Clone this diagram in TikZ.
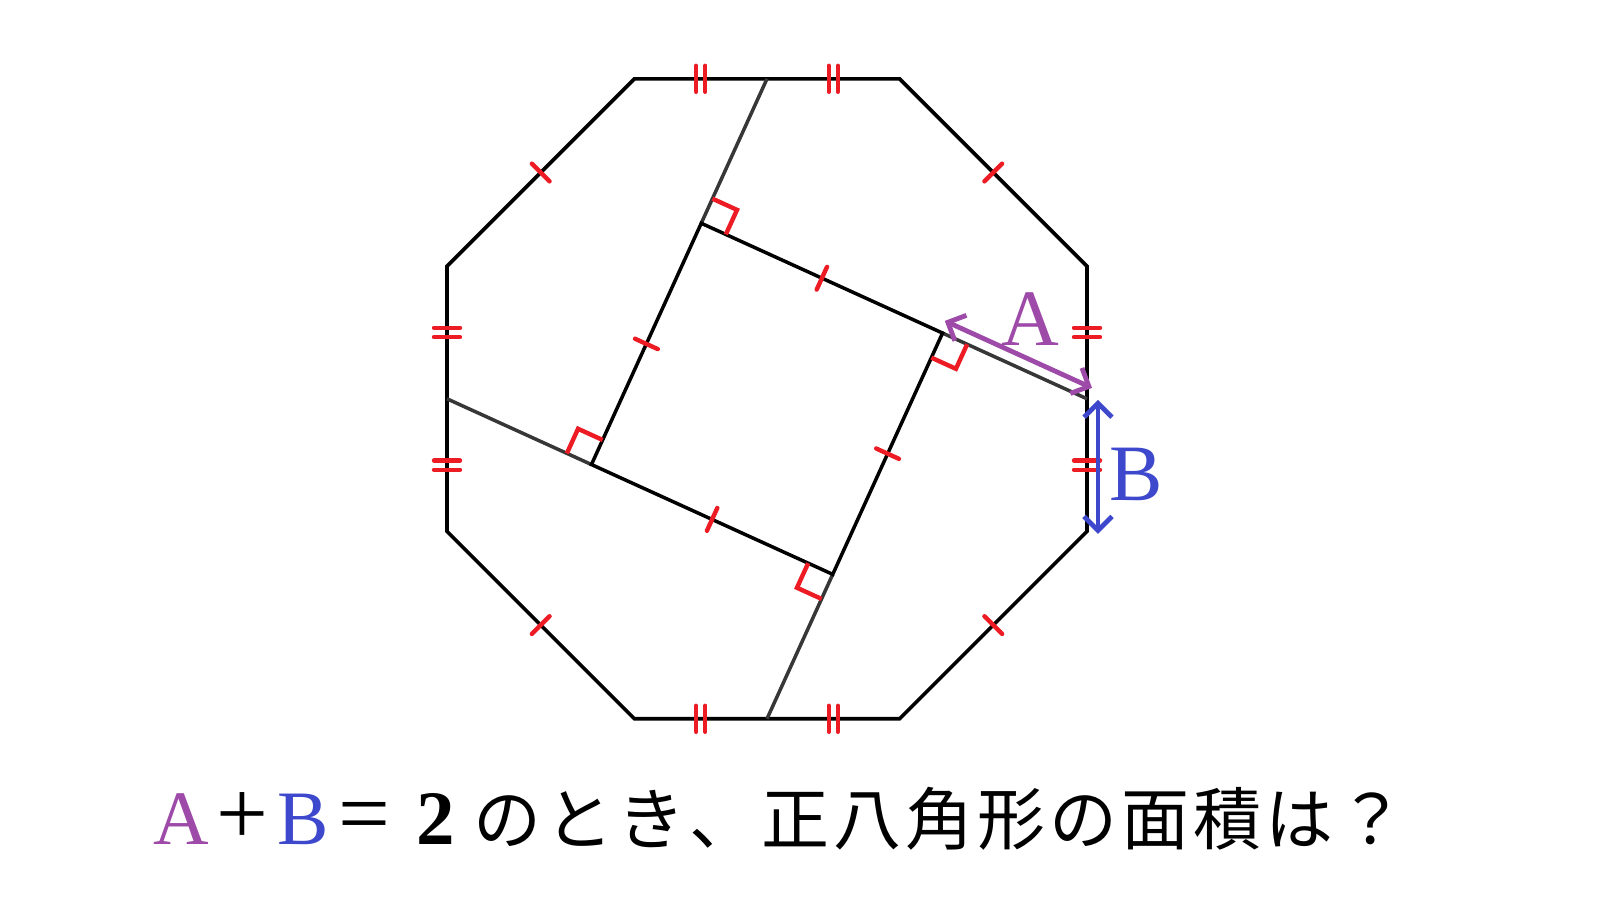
\documentclass[tikz,border=0pt]{standalone}
\usepackage{fontspec}
\setmainfont{Liberation Serif}
\newfontfamily\jpfont{Noto Sans CJK JP}
\usetikzlibrary{arrows.meta,calc}
\definecolor{tickred}{RGB}{237,28,36}
\definecolor{apurple}{RGB}{157,74,168}
\definecolor{bblue}{RGB}{62,72,205}
\definecolor{extgray}{RGB}{55,55,55}
\newcommand\jpch[1]{\makebox[36pt]{#1}}
\newcommand\lach[1]{\makebox[30.5pt]{#1}}
\newcommand\opch[1]{\makebox[30.5pt]{\fontsize{46pt}{50pt}\selectfont #1}}
\begin{document}
\begin{tikzpicture}[x=0.5pt,y=0.5pt,
  oct/.style={line width=1.8pt, black, line join=miter},
  sqside/.style={line width=1.75pt, black},
  extline/.style={line width=1.75pt, extgray},
  tickmark/.style={line width=2.2pt, tickred, line cap=round},
  rightmark/.style={line width=2.2pt, tickred, line join=miter},
  dimarrow/.style={line width=2.4pt, line cap=round,
    {Straight Barb[length=7pt,width=14pt]}-{Straight Barb[length=7pt,width=14pt]}},
  lbl/.style={font=\fontsize{40pt}{48pt}\selectfont, inner sep=0pt, anchor=base}]
\useasboundingbox (-767,-501.2) rectangle (833,398.8);
\fill[white] (-767,-501.2) rectangle (833,398.8);

% octagon
\foreach \i in {1,...,8} \coordinate (V\i) at ({-22.5+45*\i}:346.37);
\draw[oct] (V1) -- (V2) -- (V3) -- (V4) -- (V5) -- (V6) -- (V7) -- (V8) -- cycle;

% edge midpoints and square corners
\coordinate (Mr) at (320,0);
\coordinate (Mt) at (0,320);
\coordinate (Ml) at (-320,0);
\coordinate (Mb) at (0,-320);
\coordinate (Cr) at (175.55,65.74);
\coordinate (Ct) at (-65.74,175.55);
\coordinate (Cl) at (-175.55,-65.74);
\coordinate (Cb) at (65.74,-175.55);

\draw[extline] (Mr) -- (Cr);
\draw[extline] (Mt) -- (Ct);
\draw[extline] (Ml) -- (Cl);
\draw[extline] (Mb) -- (Cb);
\draw[sqside] (Cr) -- (Ct) -- (Cl) -- (Cb) -- cycle;

% single ticks
\foreach \a in {45,135,225,315} \draw[tickmark] (\a:307.5) -- (\a:332.5);
\foreach \a in {65.53,155.53,245.53,335.53} \draw[tickmark] (\a:120) -- (\a:145);

% double ticks
\foreach \r in {0,90,180,270}{
  \begin{scope}[rotate=\r]
    \foreach \y in {66.3,-66.3}{
      \foreach \d in {-4.6,4.6}{
        \draw[tickmark] (307,{\y+\d}) -- (333,{\y+\d});
      }
    }
  \end{scope}
}

% right-angle marks
\foreach \c/\m/\n in {Cr/Mr/Cb, Ct/Mt/Cr, Cl/Ml/Ct, Cb/Mb/Cl}{
  \coordinate (p) at ($(\c)!13.5pt!(\m)$);
  \coordinate (q) at ($(\c)!13.5pt!(\n)$);
  \draw[rightmark] (p) -- ($(p)+(q)-(\c)$) -- (q);
}

% dimension arrows
\coordinate (A1) at (177.8,77.9);
\coordinate (A2) at (325,10.9);
\draw[dimarrow, apurple] (A1) -- (A2);
\coordinate (B1) at (331,-1);
\coordinate (B2) at (331,-135);
\draw[dimarrow, bblue] (B1) -- (B2);

\node[lbl, text=apurple] (labA) at (263.5,53.8) {A};
\node[lbl, text=bblue] (labB) at (369.6,-101.2) {B};

% question
\node[anchor=base west, inner sep=0pt] (question) at (-616.5,-445.2) {%
\fontsize{38.5pt}{46pt}\selectfont
\lach{\textcolor{apurple}{A}}\opch{+}\lach{\textcolor{bblue}{B}}\opch{=}\hspace{2.5pt}\jpch{\textbf{2}}%
{\jpfont\fontsize{34pt}{40pt}\selectfont
\jpch{の}\jpch{と}\jpch{き}\jpch{、}\jpch{正}\jpch{八}\jpch{角}\jpch{形}\jpch{の}\jpch{面}\jpch{積}\jpch{は}\jpch{？}}};
\end{tikzpicture}
\end{document}
